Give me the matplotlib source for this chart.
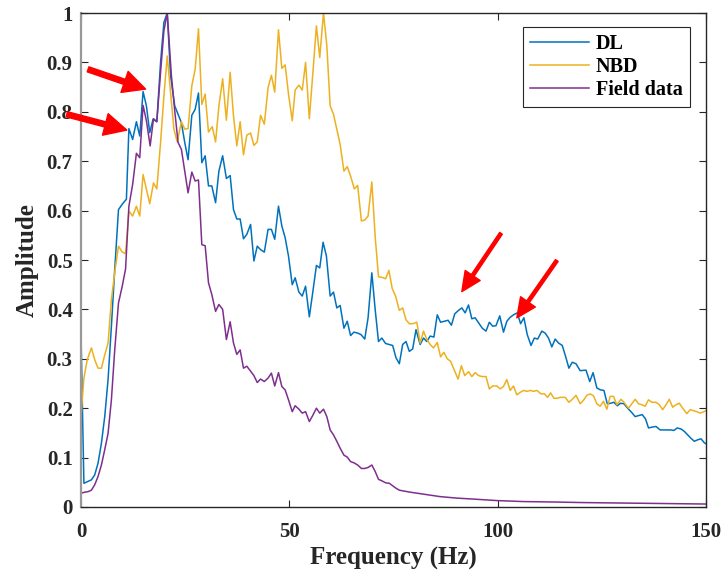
import matplotlib
matplotlib.use("Agg")
import matplotlib.pyplot as plt
import numpy as np

#Values

dl_freq = [0, 0.7, 2.5, 3.3, 4.1, 4.9, 5.7, 6.5, 7.3, 8.1, 9.0, 9.9, 10.9, 11.5, 12.4, 13.3, 14.1,
           14.9, 15.7, 16.5, 17.3, 18.2, 19.1, 19.9, 20.7, 21.5, 22.5, 23.3, 24.1, 24.9, 25.7,
           26.6, 27.4, 28.2, 29.0, 29.8, 30.6, 31.4, 32.3, 33.1, 34.0, 34.9, 35.8, 36.6, 37.4,
           38.2, 39.0, 39.8, 40.7, 41.5, 42.3, 43.1, 44.0, 44.9, 45.7, 46.5, 47.4, 48.2, 49.0,
           49.8, 50.7, 51.4, 52.3, 53.1, 53.9, 54.8, 55.6, 56.5, 57.3, 58.1, 58.9, 59.8, 60.6,
           61.4, 62.2, 63.1, 63.9, 64.7, 65.5, 66.4, 67.2, 68.1, 68.9, 69.8, 70.6, 71.4, 72.2,
           73.1, 74.0, 74.8, 75.6, 76.4, 77.2, 78.0, 78.8, 79.6, 80.4, 81.4, 82.2, 83.0, 83.8,
           84.7, 85.5, 86.3, 87.2, 88.1, 88.9, 89.7, 90.6, 91.4, 92.2, 93.0, 93.8, 94.6, 95.4,
           96.3, 97.2, 98.0, 98.8, 99.6, 100.5, 101.4, 102.2, 103.0, 103.8, 104.7, 105.5, 106.3,
           107.1, 108.0, 108.8, 109.6, 110.6, 111.4, 112.2, 113.0, 113.8, 114.6, 115.5, 116.3,
           117.1, 117.9, 118.8, 119.8, 121.2, 122.1, 122.9, 123.8, 124.7, 125.5, 126.3, 127.1,
           127.9, 128.7, 129.5, 130.3, 131.2, 132.2, 133.0, 133.8, 134.7, 135.5, 136.2, 137.2,
           138.0, 139.0, 139.8, 140.7, 141.5, 142.3, 143.1, 144.0, 144.8, 145.6, 146.4, 147.2,
           148.0, 148.8, 149.6, 150]
dl_amp = [0.352, 0.048, 0.055, 0.065, 0.089, 0.129, 0.183, 0.258, 0.366, 0.481, 0.602, 0.613, 0.623,
          0.766, 0.744, 0.780, 0.751, 0.841, 0.812, 0.758, 0.785, 0.780, 0.900, 0.981, 1.0, 0.873,
          0.812, 0.795, 0.778, 0.738, 0.703, 0.793, 0.805, 0.838, 0.697, 0.711, 0.650, 0.650,
          0.616, 0.680, 0.711, 0.665, 0.671, 0.602, 0.583, 0.583, 0.543, 0.552, 0.572, 0.498,
          0.528, 0.521, 0.516, 0.562, 0.562, 0.542, 0.609, 0.569, 0.545, 0.508, 0.450, 0.464,
          0.435, 0.427, 0.447, 0.385, 0.433, 0.489, 0.484, 0.536, 0.508, 0.427, 0.435, 0.403,
          0.408, 0.362, 0.376, 0.347, 0.354, 0.352, 0.349, 0.340, 0.383, 0.474, 0.400, 0.335,
          0.342, 0.331, 0.329, 0.327, 0.302, 0.290, 0.329, 0.335, 0.315, 0.320, 0.359, 0.329,
          0.342, 0.335, 0.346, 0.344, 0.389, 0.374, 0.376, 0.378, 0.368, 0.391, 0.398, 0.403,
          0.393, 0.409, 0.381, 0.383, 0.373, 0.362, 0.356, 0.374, 0.366, 0.367, 0.387, 0.354,
          0.376, 0.384, 0.389, 0.393, 0.371, 0.383, 0.349, 0.327, 0.342, 0.340, 0.356, 0.352,
          0.342, 0.324, 0.340, 0.332, 0.327, 0.305, 0.281, 0.293, 0.290, 0.276, 0.277, 0.254,
          0.272, 0.241, 0.237, 0.236, 0.209, 0.210, 0.212, 0.205, 0.210, 0.209, 0.200, 0.191,
          0.183, 0.185, 0.187, 0.178, 0.160, 0.162, 0.163, 0.156, 0.156, 0.156, 0.156, 0.155,
          0.160, 0.158, 0.153, 0.146, 0.139, 0.133, 0.136, 0.138, 0.130, 0.128]

nbd_freq = [0, 0.7, 1.5, 2.5, 3.3, 4.1, 4.9, 5.7, 6.5, 7.3, 8.2, 9.0, 9.9, 10.7, 11.5, 12.4, 13.3,
            14.1, 14.9, 15.7, 16.5, 17.4, 18.2, 19.1, 19.9, 20.7, 21.5, 22.3, 23.1, 24.1, 24.9,
            25.7, 26.6, 27.4, 28.2, 29.0, 29.8, 30.6, 31.5, 32.3, 33.1, 34.0, 34.9, 35.8, 36.6,
            37.4, 38.2, 39.0, 39.8, 40.7, 41.5, 42.3, 43.1, 44.0, 44.9, 45.7, 46.5, 47.4, 48.2,
            49.0, 49.8, 50.7, 51.4, 52.3, 53.1, 53.9, 54.8, 55.6, 56.5, 57.3, 58.2, 59.0, 59.8,
            60.6, 61.4, 62.2, 63.1, 63.9, 64.7, 65.6, 66.4, 67.3, 68.1, 68.9, 69.8, 70.6, 71.4,
            72.2, 73.1, 73.9, 74.7, 75.5, 76.4, 77.2, 78.0, 78.8, 79.6, 80.6, 81.4, 82.2, 83.0,
            83.8, 84.6, 85.5, 86.3, 87.1, 87.9, 88.7, 89.5, 90.5, 91.3, 92.1, 93.0, 93.8, 94.6,
            95.4, 96.3, 97.2, 98.0, 98.8, 99.8, 100.6, 101.4, 102.2, 103.0, 103.8, 104.6, 105.4,
            106.2, 107.0, 107.8, 108.6, 109.4, 110.4, 111.2, 112.0, 112.7, 113.5, 114.3, 115.0,
            116.2, 117.1, 117.9, 118.8, 119.8, 120.6, 121.4, 122.2, 123.0, 123.8, 124.6, 125.4,
            126.2, 127.0, 127.8, 128.6, 129.6, 130.3, 131.4, 132.2, 133.0, 133.8, 134.6, 135.4,
            136.2, 137.0, 138.0, 138.8, 139.6, 140.4, 141.2, 142.0, 142.8, 143.6, 144.4, 145.4,
            146.2, 147.0, 147.8, 148.6, 149.5, 150]
nbd_amp = [0.183, 0.261, 0.298, 0.322, 0.298, 0.281, 0.281, 0.308, 0.332, 0.420, 0.481, 0.528, 0.516,
           0.513, 0.599, 0.589, 0.609, 0.589, 0.673, 0.643, 0.614, 0.656, 0.644, 0.738, 0.832,
           0.913, 0.839, 0.765, 0.739, 0.780, 0.765, 0.766, 0.853, 0.886, 0.968, 0.815, 0.836,
           0.759, 0.770, 0.739, 0.812, 0.867, 0.783, 0.880, 0.792, 0.731, 0.780, 0.713, 0.753,
           0.757, 0.732, 0.739, 0.793, 0.775, 0.849, 0.874, 0.840, 0.966, 0.888, 0.895, 0.836,
           0.782, 0.844, 0.854, 0.844, 0.900, 0.786, 0.873, 0.974, 0.910, 1.0, 0.934, 0.812,
           0.795, 0.765, 0.734, 0.680, 0.689, 0.670, 0.644, 0.651, 0.579, 0.581, 0.589, 0.658,
           0.548, 0.466, 0.465, 0.462, 0.479, 0.442, 0.427, 0.398, 0.403, 0.379, 0.371, 0.371,
           0.374, 0.332, 0.356, 0.339, 0.329, 0.322, 0.333, 0.304, 0.313, 0.300, 0.295, 0.279,
           0.259, 0.286, 0.266, 0.274, 0.264, 0.272, 0.266, 0.264, 0.264, 0.239, 0.245, 0.245,
           0.239, 0.244, 0.258, 0.236, 0.245, 0.227, 0.232, 0.236, 0.234, 0.236, 0.234, 0.236,
           0.229, 0.229, 0.222, 0.231, 0.220, 0.220, 0.222, 0.222, 0.212, 0.218, 0.226, 0.209,
           0.216, 0.226, 0.229, 0.225, 0.209, 0.204, 0.214, 0.198, 0.224, 0.224, 0.207, 0.218,
           0.212, 0.200, 0.209, 0.218, 0.209, 0.207, 0.204, 0.217, 0.212, 0.212, 0.207, 0.197,
           0.207, 0.218, 0.202, 0.207, 0.210, 0.200, 0.189, 0.197, 0.195, 0.193, 0.190, 0.193,
           0.195]

field_freq = [0, 0.9, 1.7, 2.5, 3.3, 4.1, 4.9, 5.7, 6.5, 7.3, 8.1, 9.0, 9.9, 10.7, 11.5, 12.4, 13.3,
              14.1, 14.9, 15.7, 16.6, 17.4, 18.2, 19.1, 19.9, 20.7, 21.7, 22.5, 23.3, 24.1, 24.9,
              25.7, 26.6, 27.4, 28.2, 29.0, 29.8, 30.6, 31.4, 32.3, 33.1, 34.0, 34.9, 35.8, 36.6,
              37.4, 38.2, 39.0, 39.8, 40.7, 41.5, 42.3, 43.1, 44.0, 44.9, 45.7, 46.5, 47.4, 48.2,
              49.0, 49.8, 50.7, 51.4, 52.3, 53.1, 53.9, 54.8, 55.6, 56.5, 57.3, 58.2, 59.0, 59.8,
              60.6, 61.4, 62.2, 63.1, 63.9, 64.7, 65.6, 66.4, 67.3, 68.1, 68.9, 69.8, 70.6, 71.4,
              72.2, 73.1, 74.0, 74.8, 75.6, 76.4, 79.0, 82.2, 86.2, 90.2, 94.2, 99.8, 106.2,
              114.2, 120, 130, 140, 150]
field_amp = [0.028, 0.030, 0.031, 0.034, 0.045, 0.062, 0.085, 0.116, 0.149, 0.217, 0.318, 0.413,
             0.447, 0.482, 0.609, 0.653, 0.716, 0.707, 0.813, 0.782, 0.731, 0.786, 0.780, 0.880,
             0.964, 1.0, 0.873, 0.802, 0.738, 0.724, 0.680, 0.636, 0.678, 0.660, 0.662, 0.531,
             0.529, 0.454, 0.430, 0.396, 0.410, 0.400, 0.339, 0.375, 0.332, 0.309, 0.318, 0.281,
             0.285, 0.275, 0.266, 0.252, 0.259, 0.254, 0.261, 0.271, 0.245, 0.272, 0.244, 0.237,
             0.217, 0.193, 0.205, 0.198, 0.190, 0.193, 0.173, 0.185, 0.200, 0.190, 0.198, 0.183,
             0.156, 0.146, 0.133, 0.119, 0.105, 0.101, 0.092, 0.089, 0.085, 0.078, 0.078, 0.080,
             0.085, 0.072, 0.056, 0.053, 0.049, 0.048, 0.043, 0.038, 0.034, 0.030, 0.026, 0.021,
             0.018, 0.016, 0.013, 0.011, 0.010, 0.009, 0.008, 0.007, 0.006]

#Red arrows: (tail, head) in data units
arrows = [((1.7, 0.886), (15.5, 0.846)),
          ((-3.4, 0.795), (11.0, 0.763)),
          ((100.8, 0.554), (91.4, 0.436)),
          ((114.2, 0.499), (104.6, 0.383))]

x_ticks = [0, 50, 100, 150]
y_ticks = np.round(np.arange(0, 1.01, 0.1), 1)

plt.rcParams['font.family'] = 'Liberation Serif'
plt.rcParams['font.weight'] = 'bold'

fig = plt.figure(figsize=(7.25, 5.76), dpi=100)
ax = fig.add_axes([0.1117, 0.1198, 0.8621, 0.8576])

ax.plot(dl_freq, dl_amp, color='#0072BD', lw=1.1, label='DL')
ax.plot(nbd_freq, nbd_amp, color='#EDB120', lw=1.1, label='NBD')
ax.plot(field_freq, field_amp, color='#7E2F8E', lw=1.1, label='Field data')

for i, (tail, head) in enumerate(arrows):
    if i < 2:
        props = dict(facecolor='red', edgecolor='red', width=3.8, headwidth=16, headlength=16)
    else:
        props = dict(facecolor='red', edgecolor='red', width=2.3, headwidth=13, headlength=14)
    ax.annotate('', xy=head, xytext=tail, arrowprops=props, annotation_clip=False)

ax.set_xlim(0, 150)
ax.set_ylim(0, 1)
ax.set_xticks(x_ticks)
ax.set_yticks(y_ticks)
ax.set_yticklabels([f'{v:g}' for v in y_ticks])
ax.tick_params(direction='in', length=5, width=0.8, top=True, right=True, labelsize=15, colors='#262626')
ax.tick_params(axis='x', pad=11)
ax.tick_params(axis='y', pad=6)

for side in ['top', 'right', 'bottom']:
    ax.spines[side].set_color('#262626')
    ax.spines[side].set_linewidth(1.0)
ax.spines['left'].set_color('#999999')
ax.spines['left'].set_linewidth(1.6)

ax.set_xlabel('Frequency (Hz)', fontsize=18, fontweight='bold', color='#262626', labelpad=3)
ax.set_ylabel('Amplitude', fontsize=18, fontweight='bold', color='#262626', labelpad=6)

leg = ax.legend(loc='upper right', bbox_to_anchor=(0.974, 0.972), borderaxespad=0,
                fancybox=False, framealpha=1, edgecolor='#262626',
                prop={'size': 14.5, 'weight': 'bold'}, handlelength=2.9,
                handletextpad=0.35, labelspacing=0.15, borderpad=0.35)
leg.get_frame().set_linewidth(0.8)

plt.savefig('out.png', dpi=100)
plt.close()
